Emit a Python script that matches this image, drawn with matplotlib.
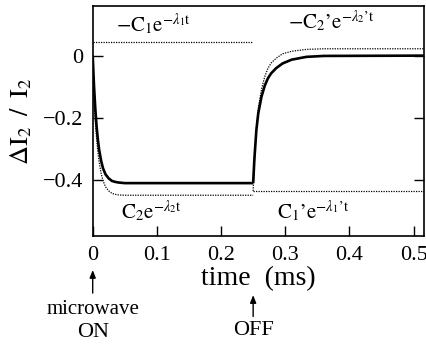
import matplotlib
matplotlib.use('Agg')
import matplotlib.pyplot as plt

plt.rcParams['font.family'] = ['Liberation Serif', 'DejaVu Serif']
plt.rcParams['mathtext.fontset'] = 'stix'

# microwave ON part (t in ms)
t_on = [0, 0.002, 0.004, 0.006, 0.008, 0.010, 0.013, 0.016, 0.020, 0.025,
        0.030, 0.035, 0.040, 0.050, 0.060, 0.25]
total_on = [0, -0.096, -0.169, -0.226, -0.269, -0.302, -0.337, -0.362, -0.382,
            -0.395, -0.403, -0.406, -0.408, -0.410, -0.410, -0.410]
c2_on = [-0.04, -0.135, -0.21, -0.265, -0.31, -0.342, -0.377, -0.402, -0.422,
         -0.435, -0.443, -0.446, -0.448, -0.449, -0.449, -0.449]
c1_on_t = [0, 0.25]
c1_on = [0.043, 0.043]

# microwave OFF part
t_off = [0.25, 0.252, 0.255, 0.258, 0.263, 0.268, 0.273, 0.278, 0.286, 0.296,
         0.31, 0.333, 0.36, 0.52]
total_off = [-0.41, -0.33, -0.24, -0.185, -0.132, -0.097, -0.073, -0.057, -0.04,
             -0.025, -0.013, -0.004, -0.001, 0]
c2p_off = [-0.435, -0.34, -0.235, -0.17, -0.108, -0.068, -0.041, -0.024, -0.008,
           0.006, 0.014, 0.02, 0.022, 0.022]
c1p_off_t = [0.25, 0.52]
c1p_off = [-0.435, -0.435]

xticks = [0, 0.1, 0.2, 0.3, 0.4, 0.5]
xticklabels = ['0', '0.1', '0.2', '0.3', '0.4', '0.5']
yticks = [0, -0.2, -0.4]
yticklabels = ['0', '\u22120.2', '\u22120.4']

fig = plt.figure(figsize=(4.26, 3.45), dpi=100)
ax = fig.add_axes([0.2176, 0.316, 0.7774, 0.667])

ax.plot(t_on, total_on, color='k', lw=1.9, solid_capstyle='butt')
ax.plot(t_off, total_off, color='k', lw=1.9, solid_capstyle='butt')
ax.plot([0.25, 0.25], [total_on[-1], total_off[0]], color='k', lw=1.9)
for tt, yy in [(t_on, c2_on), (c1_on_t, c1_on), (t_off, c2p_off), (c1p_off_t, c1p_off)]:
    ax.plot(tt, yy, color='k', lw=0.9, linestyle=(0, (1, 1)))

ax.set_xlim(0, 0.516)
ax.set_ylim(-0.58, 0.16)
ax.set_xticks(xticks)
ax.set_xticklabels(xticklabels)
ax.set_yticks(yticks)
ax.set_yticklabels(yticklabels)
ax.tick_params(direction='in', length=7, width=1, labelsize=16, right=True, top=False)
ax.tick_params(axis='x', pad=7)
ax.tick_params(axis='y', pad=7)
for s in ax.spines.values():
    s.set_linewidth(1.2)

ax.set_xlabel('time  (ms)', fontsize=20, labelpad=1)
ax.set_ylabel(r'$\Delta\mathrm{I}_2\;\;/\;\;\mathrm{I}_2$', fontsize=19, labelpad=6)

ax.text(0.095, 0.098, r'$-\mathrm{C}_1\mathrm{e}^{-\lambda_1 \mathrm{t}}$', fontsize=15, ha='center', va='center')
ax.text(0.372, 0.107, r'$-\mathrm{C}_2\mathrm{’e}^{-\lambda_2\mathrm{’t}}$', fontsize=15, ha='center', va='center')
ax.text(0.092, -0.503, r'$\mathrm{C}_2\mathrm{e}^{-\lambda_2 \mathrm{t}}$', fontsize=15, ha='center', va='center')
ax.text(0.344, -0.503, r'$\mathrm{C}_1\mathrm{’e}^{-\lambda_1\mathrm{’t}}$', fontsize=15, ha='center', va='center')

tr = ax.get_xaxis_transform()
arrow = dict(arrowstyle='-|>,head_width=0.18,head_length=0.45', color='k', lw=1.0, shrinkA=0, shrinkB=0)
ax.annotate('', xy=(0, -0.148), xytext=(0, -0.248), xycoords=tr, textcoords=tr, arrowprops=arrow, annotation_clip=False)
ax.annotate('', xy=(0.25, -0.257), xytext=(0.25, -0.35), xycoords=tr, textcoords=tr, arrowprops=arrow, annotation_clip=False)
ax.text(0, -0.32, 'microwave', transform=tr, fontsize=15, ha='center', va='center')
ax.text(0, -0.42, 'ON', transform=tr, fontsize=16, ha='center', va='center')
ax.text(0.25, -0.41, 'OFF', transform=tr, fontsize=16, ha='center', va='center')

fig.savefig('out.png', dpi=100)
